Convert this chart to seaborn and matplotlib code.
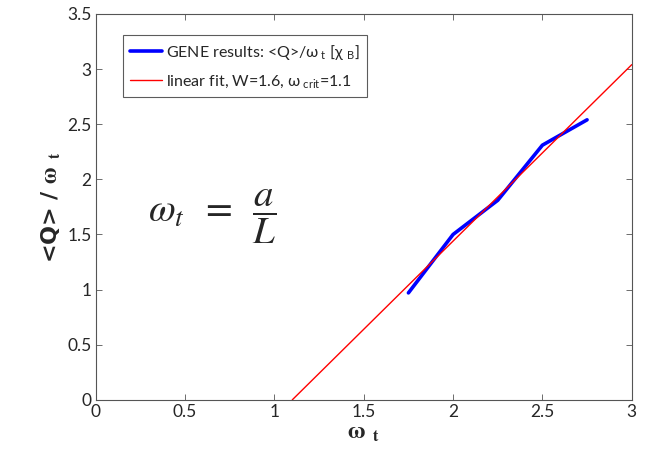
import pandas as pd
import seaborn as sns
import matplotlib.pyplot as plt

# GENE results
omega_t = [1.75, 2.0, 2.25, 2.5, 2.75]
q_over_omega = [0.97, 1.50, 1.81, 2.31, 2.54]

# linear fit, W=1.6, omega_crit=1.1 (end points)
fit_x = [1.1, 3.0]
fit_y = [0.0, 3.04]

x_ticks = [0, 0.5, 1, 1.5, 2, 2.5, 3]
x_tick_labels = ["0", "0.5", "1", "1.5", "2", "2.5", "3"]
y_ticks = [0, 0.5, 1, 1.5, 2, 2.5, 3, 3.5]
y_tick_labels = ["0", "0.5", "1", "1.5", "2", "2.5", "3", "3.5"]

sns.set_theme(style="ticks")
plt.rcParams['font.family'] = ['Lato', 'DejaVu Sans']
plt.rcParams['mathtext.fontset'] = 'stix'

fig = plt.figure(figsize=(6.56, 4.66), dpi=100)
ax = fig.add_axes([0.146, 0.142, 0.817, 0.828])

gene = pd.DataFrame({"x": omega_t, "y": q_over_omega})
fit = pd.DataFrame({"x": fit_x, "y": fit_y})

sns.lineplot(data=gene, x="x", y="y", ax=ax, color="#0000ff", linewidth=2.6,
             label=r"GENE results: <Q>/$\mathregular{\omega_{\ t}}$ [$\mathregular{\chi}$ $_\mathregular{B}$]")
sns.lineplot(data=fit, x="x", y="y", ax=ax, color="#ff0000", linewidth=1.0,
             label=r"linear fit, W=1.6, $\mathregular{\omega_{\ crit}}$=1.1")

ax.set_xlim(0, 3)
ax.set_ylim(0, 3.5)
ax.set_xticks(x_ticks)
ax.set_xticklabels(x_tick_labels)
ax.set_yticks(y_ticks)
ax.set_yticklabels(y_tick_labels)
ax.tick_params(direction="in", top=True, right=True, labelsize=12.5,
               length=4, width=0.6, color="#555555", pad=3)
for s in ax.spines.values():
    s.set_color("#555555")
    s.set_linewidth(0.8)

ax.set_xlabel(r"$\mathbf{\omega}$ $_\mathbf{t}$", fontsize=17, fontweight="bold",
              family="DejaVu Sans", labelpad=0)
ax.set_ylabel(r"<Q> / $\mathbf{\omega}$ $_\mathbf{t}$", fontsize=16, fontweight="bold",
              family="DejaVu Sans", labelpad=4)

ax.text(0.29, 1.66, r"$\omega_t\;\;=\;\;\dfrac{a}{L}$", fontsize=28, va="center", ha="left")

leg = ax.legend(loc="upper left", bbox_to_anchor=(0.035, 0.965), fontsize=11.5,
                frameon=True, fancybox=False, edgecolor="#333333",
                handlelength=2.0, handletextpad=0.3, borderpad=0.45, labelspacing=0.7)
leg.get_frame().set_linewidth(0.8)

fig.savefig("out.png", dpi=100)
